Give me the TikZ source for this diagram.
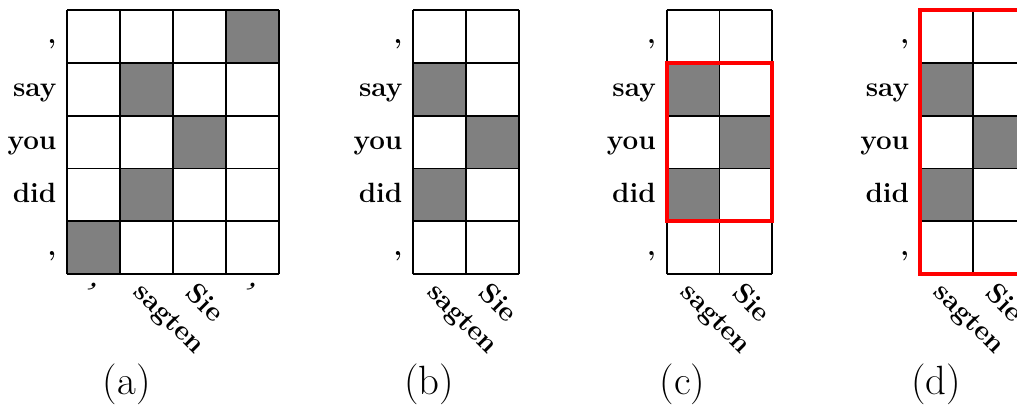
\documentclass[tikz,border=0pt]{standalone}
\usepackage{tikz}
\usetikzlibrary{positioning}
\definecolor{CellGray}{gray}{0.5}
\definecolor{BoxRed}{rgb}{1,0,0}

\begin{document}
\begin{tikzpicture}[x=1cm, y=1cm,
    gridline/.style={line width=1pt, black},
    rowlab/.style={anchor=base east, inner sep=0pt, font=\fontsize{15}{18}\selectfont\bfseries},
    collab/.style={anchor=north west, rotate=-45, inner sep=0pt, font=\fontsize{15}{18}\selectfont\bfseries},
    redbox/.style={draw=BoxRed, line width=2.2pt},
    subcap/.style={font=\fontsize{22}{26}\selectfont}]
    \useasboundingbox (0,0) rectangle (19.243,-7.701);

    % (a) full alignment matrix
    \begin{scope}[shift={(1.273,-0.189)}]
        \foreach \c/\r in {3/0, 1/1, 2/2, 1/3, 0/4} {
            \fill[CellGray] (\c,-\r) rectangle ++(1,-1);
        }
        \draw[gridline] (0,-5) grid (4,0);
        \foreach \w [count=\i from 0] in {{,}, say, you, did, {,}} {
            \node[rowlab] (a-r\i) at (-0.2,-\i-0.64) {\w};
        }
        \foreach \w [count=\i from 0] in {{,}, sagten, Sie, {,}} {
            \node[collab] (a-c\i) at (\i+0.48,-5.12) {\w};
        }
    \end{scope}
    \node[subcap] (a-cap) at (2.40,-7.28) {(a)};

    % (b) two source columns
    \begin{scope}[shift={(7.820,-0.189)}]
        \foreach \c/\r in {0/1, 1/2, 0/3} {
            \fill[CellGray] (\c,-\r) rectangle ++(1,-1);
        }
        \draw[gridline] (0,-5) grid (2,0);
        \foreach \w [count=\i from 0] in {{,}, say, you, did, {,}} {
            \node[rowlab] (b-r\i) at (-0.2,-\i-0.64) {\w};
        }
        \foreach \w [count=\i from 0] in {sagten, Sie} {
            \node[collab] (b-c\i) at (\i+0.48,-5.12) {\w};
        }
    \end{scope}
    \node[subcap] (b-cap) at (8.12,-7.28) {(b)};

    % (c) consistent phrase pair
    \begin{scope}[shift={(12.615,-0.189)}]
        \foreach \c/\r in {0/1, 1/2, 0/3} {
            \fill[CellGray] (\c,-\r) rectangle ++(1,-1);
        }
        \draw[gridline] (0,-5) grid (2,0);
        \draw[redbox] (0,-1) rectangle (2,-4);
        \foreach \w [count=\i from 0] in {{,}, say, you, did, {,}} {
            \node[rowlab] (c-r\i) at (-0.2,-\i-0.64) {\w};
        }
        \foreach \w [count=\i from 0] in {sagten, Sie} {
            \node[collab] (c-c\i) at (\i+0.48,-5.12) {\w};
        }
    \end{scope}
    \node[subcap] (c-cap) at (12.915,-7.28) {(c)};

    % (d) phrase extended with unaligned commas
    \begin{scope}[shift={(17.408,-0.189)}]
        \foreach \c/\r in {0/1, 1/2, 0/3} {
            \fill[CellGray] (\c,-\r) rectangle ++(1,-1);
        }
        \draw[gridline] (0,-5) grid (2,0);
        \draw[redbox] (0,0) rectangle (2,-5);
        \foreach \w [count=\i from 0] in {{,}, say, you, did, {,}} {
            \node[rowlab] (d-r\i) at (-0.2,-\i-0.64) {\w};
        }
        \foreach \w [count=\i from 0] in {sagten, Sie} {
            \node[collab] (d-c\i) at (\i+0.48,-5.12) {\w};
        }
    \end{scope}
    \node[subcap] (d-cap) at (17.71,-7.28) {(d)};
\end{tikzpicture}
\end{document}
